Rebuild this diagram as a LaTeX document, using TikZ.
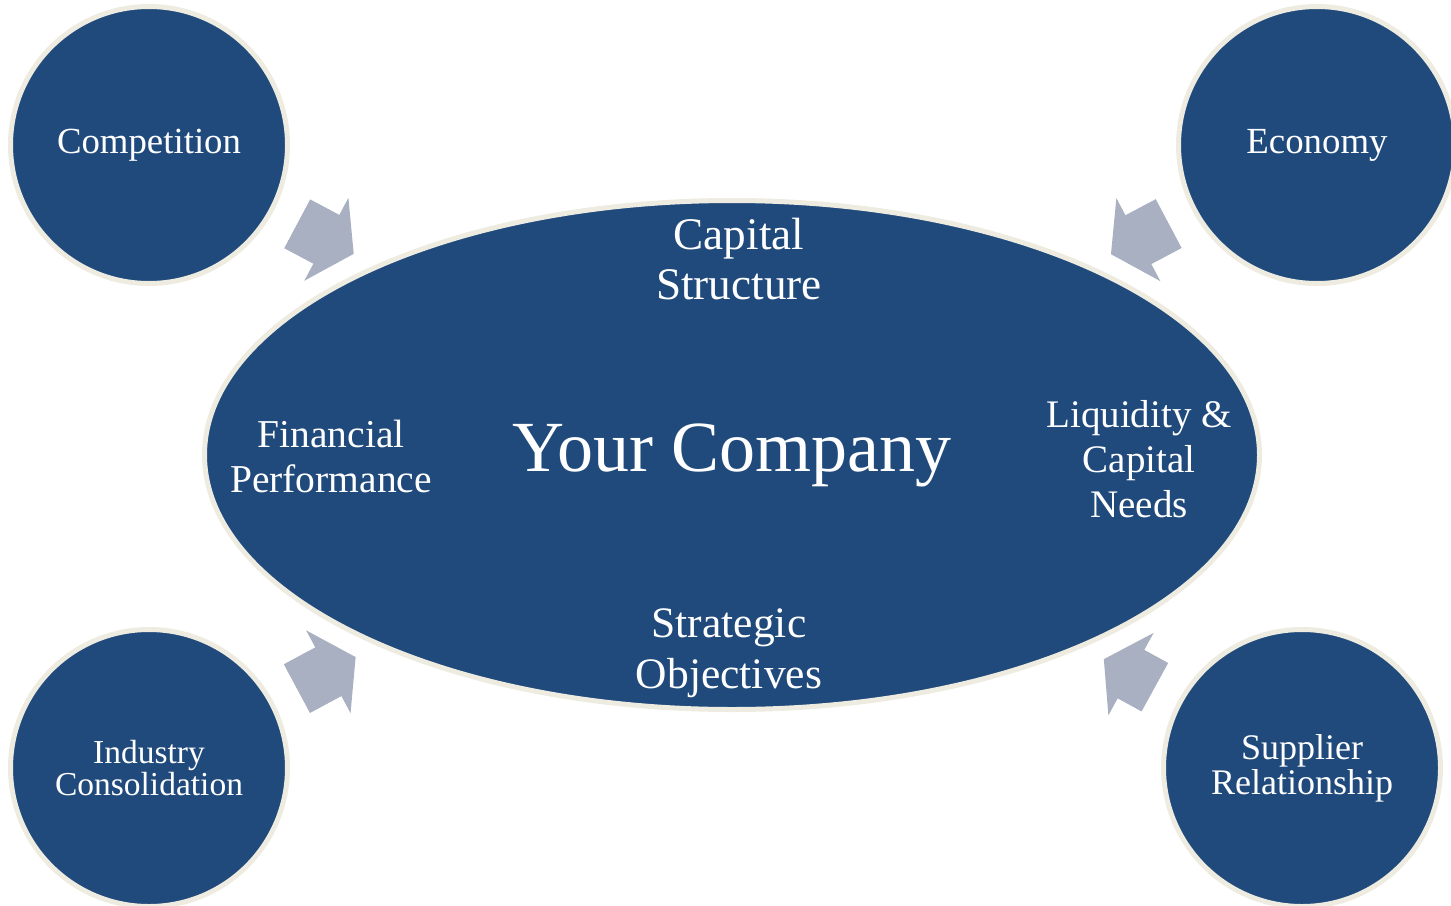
\documentclass[tikz,border=0pt]{standalone}
\usepackage{fontspec}
\setmainfont{Liberation Serif}
\usetikzlibrary{arrows.meta,positioning,shapes.geometric}
\definecolor{firmNavy}{HTML}{204A7C}
\definecolor{firmCream}{HTML}{EEECE1}
\definecolor{firmSlate}{HTML}{A9B0C1}
\newcommand{\fsz}[2]{\fontsize{#1}{#2}\selectfont}
\tikzset{
  force/.style={circle, draw=firmCream, line width=2.5pt, fill=firmNavy,
              text=white, align=center, minimum size=138.5pt, inner sep=0pt},
  firm/.style={ellipse, draw=firmCream, line width=2.5pt, fill=firmNavy,
              text=white, minimum width=527.5pt, minimum height=254.5pt,
              inner sep=0pt, font=\fsz{36pt}{42pt}},
  topic/.style={text=white, align=center, inner sep=0pt},
  push/.style={-{Triangle[length=15.5pt,width=47pt,line width=0pt]},
              draw=firmSlate, line width=27.5pt,
              shorten <=13.5pt, shorten >=12pt},
  shaft/.style={draw=firmSlate, line width=27.5pt,
              shorten <=13.5pt, shorten >=22pt},
}

\begin{document}
\begin{tikzpicture}[x=0.5pt,y=-0.5pt]
  \useasboundingbox (0,0) rectangle (1451,905);
  % forces acting from outside
  \node[force,font=\fsz{18.4pt}{21pt}] (comp) at (149,145) {Competition};
  \node[force,font=\fsz{18.4pt}{21pt}] (econ) at (1317,145) {Economy};
  \node[force,font=\fsz{16.75pt}{16pt}] (indus) at (149,768) {Industry\\Consolidation};
  \node[force,font=\fsz{18pt}{17.5pt}] (suppl) at (1302,768) {Supplier\\Relationship};
  % the company and its concerns
  \node[firm] (firm) at (732,455) {Your Company};
  \node[topic,font=\fsz{22.6pt}{25pt}] (capstr) at (739,259) {Capital\\Structure};
  \node[topic,font=\fsz{21.75pt}{25.5pt}] (strat) at (729,653) {Strategic\\Objectives};
  \node[topic,font=\fsz{19.75pt}{22.5pt}] (finperf) at (331,456) {Financial\\Performance};
  \node[topic,font=\fsz{19.5pt}{22.5pt}] (liquid) at (1139,459) {Liquidity \&\\Capital\\Needs};
  % block arrows pushing in on the company
  \foreach \f in {comp,econ,indus,suppl}{
    \draw[shaft] (\f) -- (firm);
    \draw[push] (\f) -- (firm);
  }
\end{tikzpicture}
\end{document}
